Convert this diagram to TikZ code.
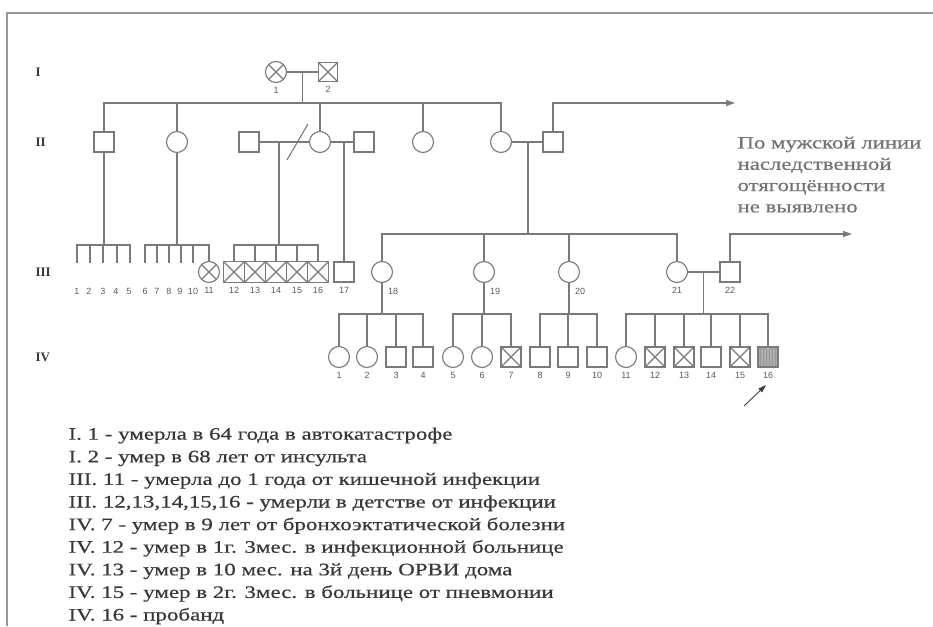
\documentclass[tikz,border=0pt]{standalone}
\usepackage{fontspec}
\setmainfont{Liberation Serif}
\setsansfont{Liberation Sans}
\newfontfamily\notefont[FakeStretch=1.31, FakeBold=0.5]{Liberation Serif}
\usepackage{xcolor}
\usetikzlibrary{arrows.meta, calc}

\definecolor{linegray}{HTML}{7A7A7A}
\definecolor{textgray}{HTML}{383838}
\definecolor{numgray}{HTML}{5A5A5A}

\begin{document}
\begin{tikzpicture}[
    x=1pt, y=-1pt,
    color=linegray,
    line width=1.1pt,
    >={Triangle[length=9pt, width=6pt]},
    % Pedigree symbols
    male/.style={rectangle, draw, minimum size=20pt, inner sep=0pt, fill=white},
    female/.style={circle, draw, minimum size=21pt, inner sep=0pt, fill=white},
    dead/.style={path picture={\draw (path picture bounding box.north west) -- (path picture bounding box.south east) (path picture bounding box.north east) -- (path picture bounding box.south west);}},
    proband/.style={fill=gray!65, path picture={\foreach \s in {-7.5,-4.5,...,7.5} \draw[black!40, line width=0.8pt] ([xshift=\s pt]path picture bounding box.north) -- ([xshift=\s pt]path picture bounding box.south);}},
    % Texts
    num/.style={font=\sffamily\fontsize{9}{9}\selectfont, text=numgray, inner sep=0pt},
    lab/.style={label={[num, label distance=4pt]below:#1}},
    gen/.style={font=\fontsize{13}{13}\selectfont\bfseries, text=textgray, anchor=west, inner sep=0pt},
    note/.style={font=\notefont\fontsize{17.5}{22.6}\selectfont, text=textgray, align=left, inner sep=0pt},
    % Edges
    arrow/.style={->},
    frame/.style={line width=1.5pt, draw=gray!80}
]
\useasboundingbox (0,0) rectangle (933,626);
\draw[frame] (7,626) -- (7,13) -- (933,13);

% -----------------------------------------------------------
% Generation labels
% -----------------------------------------------------------
\node[gen] (gI) at (35,72) {I};
\node[gen] (gII) at (35,142) {II};
\node[gen] (gIII) at (35,272) {III};
\node[gen] (gIV) at (35,357) {IV};

% -----------------------------------------------------------
% GENERATION I (y=72)
% -----------------------------------------------------------
\node[female, dead, lab=1] (i1) at (276,72) {};
\node[male, dead, minimum size=19pt, lab=2] (i2) at (328,72) {};

% -----------------------------------------------------------
% GENERATION II (y=142)
% -----------------------------------------------------------
\node[male] (ii1) at (104,142) {};
\node[female] (ii2) at (177,142) {};
\node[male] (ii3) at (249,142) {};
\node[female] (ii4) at (320,142) {};
\node[male] (ii5) at (364,142) {};
\node[female] (ii6) at (423,142) {};
\node[female] (ii7) at (501,142) {};
\node[male] (ii8) at (553,142) {};

% -----------------------------------------------------------
% GENERATION III (y=272)
% -----------------------------------------------------------
\coordinate (iii1) at (77,263);
\coordinate (iii2) at (90,263);
\coordinate (iii3) at (103,263);
\coordinate (iii4) at (117,263);
\coordinate (iii5) at (130,263);
\coordinate (iii6) at (145,263);
\coordinate (iii7) at (157,263);
\coordinate (iii8) at (169,263);
\coordinate (iii9) at (181,263);
\coordinate (iii10) at (193,263);
\node[num] (iii1n) at (77,291) {1};
\node[num] (iii2n) at (89,291) {2};
\node[num] (iii3n) at (103,291) {3};
\node[num] (iii4n) at (116,291) {4};
\node[num] (iii5n) at (129,291) {5};
\node[num] (iii6n) at (145,291) {6};
\node[num] (iii7n) at (157,291) {7};
\node[num] (iii8n) at (169,291) {8};
\node[num] (iii9n) at (180,291) {9};
\node[num] (iii10n) at (193,291) {10};
\node[female, dead, lab=11] (iii11) at (209,272) {};
\node[male, dead, minimum size=21pt, lab=12] (iii12) at (234,272) {};
\node[male, dead, minimum size=21pt, lab=13] (iii13) at (255,272) {};
\node[male, dead, minimum size=21pt, lab=14] (iii14) at (276,272) {};
\node[male, dead, minimum size=21pt, lab=15] (iii15) at (297,272) {};
\node[male, dead, minimum size=21pt, lab=16] (iii16) at (318,272) {};
\node[male, lab=17] (iii17) at (344,272) {};
\node[female] (iii18) at (382,272) {};
\node[female] (iii19) at (484,272) {};
\node[female] (iii20) at (569,272) {};
\node[female, lab=21] (iii21) at (677,272) {};
\node[male, lab=22] (iii22) at (730,272) {};
\node[num] (iii18n) at (393,291) {18};
\node[num] (iii19n) at (495,291) {19};
\node[num] (iii20n) at (580,291) {20};

% -----------------------------------------------------------
% GENERATION IV (y=357)
% -----------------------------------------------------------
\node[female, lab=1] (iv1) at (339,357) {};
\node[female, lab=2] (iv2) at (367,357) {};
\node[male, lab=3] (iv3) at (396,357) {};
\node[male, lab=4] (iv4) at (423,357) {};
\node[female, lab=5] (iv5) at (453,357) {};
\node[female, lab=6] (iv6) at (482,357) {};
\node[male, dead, lab=7] (iv7) at (511,357) {};
\node[male, lab=8] (iv8) at (540,357) {};
\node[male, lab=9] (iv9) at (568,357) {};
\node[male, lab=10] (iv10) at (597,357) {};
\node[female, lab=11] (iv11) at (626,357) {};
\node[male, dead, lab=12] (iv12) at (655,357) {};
\node[male, dead, lab=13] (iv13) at (684,357) {};
\node[male, lab=14] (iv14) at (711,357) {};
\node[male, dead, lab=15] (iv15) at (740,357) {};
\node[male, proband, lab=16] (iv16) at (768,357) {};

% -----------------------------------------------------------
% Connectors
% -----------------------------------------------------------
% I: couple and their children
\draw (i1) -- (i2);
\coordinate (ci) at ($(i1.east)!.5!(i2.west)$);
\draw (ci) -- (ci |- 0,103);
\draw (ii1.north) |- (ii7.north |- 0,103) -- (ii7.north);
\draw (ii2.north) -- (ii2.north |- 0,103);
\draw (ii4.north) -- (ii4.north |- 0,103);
\draw (ii6.north) -- (ii6.north |- 0,103);
\coordinate (outII) at (735,103);
\draw[arrow] (ii8.north) |- (outII);

% II: marriages
\draw (ii3) -- (ii4);
\draw (287,160) -- (308,124);
\draw (ii4) -- (ii5);
\draw (ii7) -- (ii8);
\coordinate (c34) at (279,142);
\coordinate (c45) at (344,142);
\coordinate (c78) at (528,142);

% II -> III
\draw (ii1.south) -- (ii1.south |- 0,245);
\draw (iii1) -- (iii1 |- 0,245) -- (iii5 |- 0,245) -- (iii5);
\draw (iii2) -- (iii2 |- 0,245);
\draw (iii3) -- (iii3 |- 0,245);
\draw (iii4) -- (iii4 |- 0,245);

\draw (ii2.south) -- (ii2.south |- 0,245);
\draw (iii6) -- (iii6 |- 0,245) -| (iii11.north);
\draw (iii7) -- (iii7 |- 0,245);
\draw (iii8) -- (iii8 |- 0,245);
\draw (iii9) -- (iii9 |- 0,245);
\draw (iii10) -- (iii10 |- 0,245);

\draw (c34) -- (c34 |- 0,245);
\draw (iii12.north) |- (iii16.north |- 0,245) -- (iii16.north);
\draw (iii13.north) -- (iii13.north |- 0,245);
\draw (iii14.north) -- (iii14.north |- 0,245);
\draw (iii15.north) -- (iii15.north |- 0,245);

\draw (c45) -- (iii17.north);

\draw (c78) -- (c78 |- 0,234);
\draw (iii18.north) |- (iii21.north |- 0,234) -- (iii21.north);
\draw (iii19.north) -- (iii19.north |- 0,234);
\draw (iii20.north) -- (iii20.north |- 0,234);
\coordinate (outIII) at (852,234);
\draw[arrow] (iii22.north) |- (outIII);

% III -> IV
\draw (iii18.south) -- (iii18.south |- 0,314);
\draw (iv1.north) |- (iv4.north |- 0,314) -- (iv4.north);
\draw (iv2.north) -- (iv2.north |- 0,314);
\draw (iv3.north) -- (iv3.north |- 0,314);

\draw (iii19.south) -- (iii19.south |- 0,314);
\draw (iv5.north) |- (iv7.north |- 0,314) -- (iv7.north);
\draw (iv6.north) -- (iv6.north |- 0,314);

\draw (iii20.south) -- (iii20.south |- 0,314);
\draw (iv8.north) |- (iv10.north |- 0,314) -- (iv10.north);
\draw (iv9.north) -- (iv9.north |- 0,314);

\draw (iii21) -- (iii22);
\coordinate (c2122) at ($(iii21.east)!.5!(iii22.west)$);
\draw (c2122) -- (c2122 |- 0,314);
\draw (iv11.north) |- (iv16.north |- 0,314) -- (iv16.north);
\draw (iv12.north) -- (iv12.north |- 0,314);
\draw (iv13.north) -- (iv13.north |- 0,314);
\draw (iv14.north) -- (iv14.north |- 0,314);
\draw (iv15.north) -- (iv15.north |- 0,314);

% proband pointer
\coordinate (ptail) at (744,406);
\coordinate (ptip) at (766,385);
\draw[-{Triangle[length=8pt, width=5pt]}, line width=0.9pt, draw=black!75] (ptail) -- (ptip);

% -----------------------------------------------------------
% Notes
% -----------------------------------------------------------
\node[note, font=\notefont\fontsize{17.4}{21.3}\selectfont, text=gray!90!black, anchor=north west] (paternal) at (737,136) {По мужской линии\\наследственной\\отягощённости\\не выявлено};

\node[note, anchor=north west] (legend) at (68,427) {I. 1 - умерла в 64 года в автокатастрофе\\
I. 2 - умер в 68 лет от инсульта\\
III. 11 - умерла до 1 года от кишечной инфекции\\
III. 12,13,14,15,16 - умерли в детстве от инфекции\\
IV. 7 - умер в 9 лет от бронхоэктатической болезни\\
IV. 12 - умер в 1г. 3мес. в инфекционной больнице\\
IV. 13 - умер в 10 мес. на 3й день ОРВИ дома\\
IV. 15 - умер в 2г. 3мес. в больнице от пневмонии\\
IV. 16 - пробанд};

\end{tikzpicture}
\end{document}
